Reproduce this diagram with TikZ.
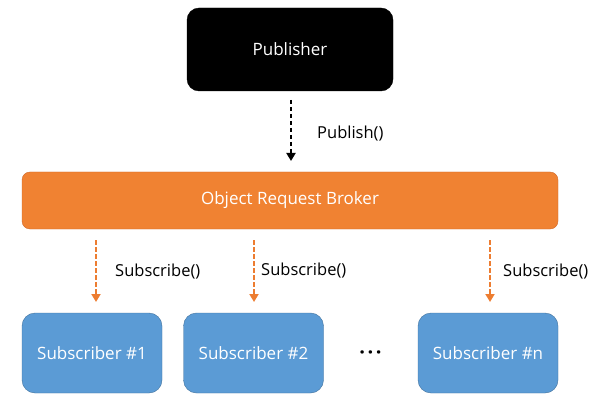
\documentclass[tikz,border=0pt]{standalone}
\usepackage{fontspec}
\setmainfont{Open Sans}
\usetikzlibrary{arrows.meta}
\definecolor{brk}{HTML}{F08232}
\definecolor{brkline}{HTML}{D0692A}
\definecolor{sub}{HTML}{5B9BD5}
\definecolor{subline}{HTML}{41719C}
\definecolor{arr}{HTML}{ED7D31}
\begin{document}
\begin{tikzpicture}[x=1pt,y=-1pt,
  boxtext/.style={text=white,font=\fontsize{17}{20}\selectfont},
  pubbox/.style={draw=black,fill=black,rounded corners=12pt,minimum width=206pt,minimum height=83pt,boxtext},
  brkbox/.style={draw=brkline,fill=brk,rounded corners=8pt,minimum width=536pt,minimum height=57pt,boxtext},
  subbox/.style={draw=subline,fill=sub,rounded corners=13pt,minimum width=140pt,minimum height=80pt,boxtext},
  darr/.style={line width=1.8pt,dash pattern=on 4.5pt off 2.5pt,-{Triangle[length=8pt,width=9pt]}},
  lbl/.style={font=\fontsize{16.5}{19}\selectfont,anchor=west,inner sep=0pt}]
\useasboundingbox (0,0) rectangle (602,406);
\node[pubbox] (pub) at (290,49.5) {Publisher};
\node[brkbox] (brk) at (290,200.5) {Object Request Broker};
\node[subbox] (s1) at (92,353) {Subscriber \#1};
\node[subbox] (s2) at (253.5,353) {Subscriber \#2};
\node[subbox] (sn) at (488,353) {Subscriber \#n};
\node[font=\fontsize{20}{22}\selectfont\bfseries,inner sep=0pt] (dots) at (370.5,355) {·\hspace{2.5pt}·\hspace{2.5pt}·};
\coordinate (p1) at (291,100);
\coordinate (p2) at (291,161);
\draw[darr,black] (p1) -- (p2);
\node[lbl] (lp) at (317,134) {Publish()};
\coordinate (a1) at (96,240);
\coordinate (b1) at (96,302);
\coordinate (a2) at (254,240);
\coordinate (b2) at (254,302);
\coordinate (a3) at (490,240);
\coordinate (b3) at (490,302);
\draw[darr,arr] (a1) -- (b1);
\draw[darr,arr] (a2) -- (b2);
\draw[darr,arr] (a3) -- (b3);
\node[lbl] (l1) at (115,272) {Subscribe()};
\node[lbl] (l2) at (261,271) {Subscribe()};
\node[lbl] (l3) at (503,272) {Subscribe()};
\end{tikzpicture}
\end{document}
